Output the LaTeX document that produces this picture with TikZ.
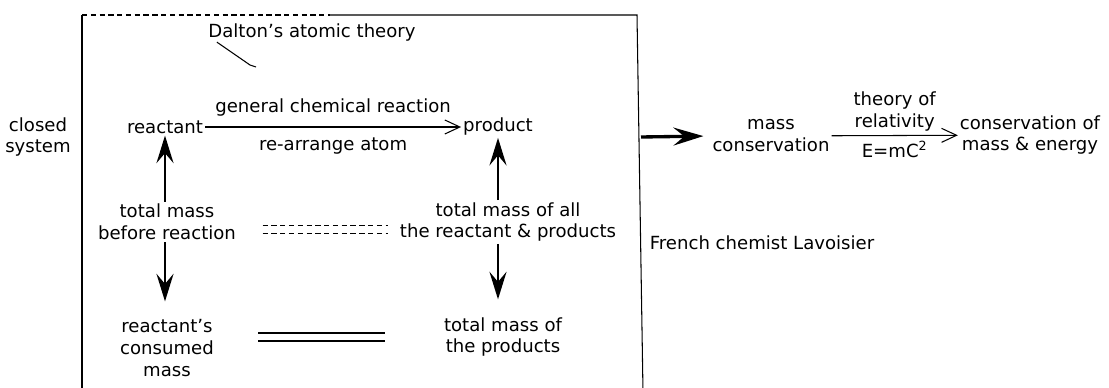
\documentclass[tikz,border=0pt]{standalone}
\usepackage{fontspec}
\setmainfont{DejaVu Sans}
\usetikzlibrary{arrows.meta, positioning}

\begin{document}
\begin{tikzpicture}[
    x=0.02cm, y=-0.02cm,
    term/.style={
        align=center, inner sep=1pt,
        font=\fontsize{10.3}{12.5}\selectfont
    },
    lbl/.style={font=\fontsize{10.3}{12.5}\selectfont, inner sep=1pt, align=center},
    heavy/.style={line width=1.7pt, -{Stealth[length=5.5mm, width=3.4mm, inset=2mm]}},
    light/.style={line width=0.6pt, -{Straight Barb[length=3mm, width=2.8mm]}},
    equal/.style={line width=0.6pt}
]
\useasboundingbox (0,0) rectangle (1109,388);

% closed system boundary
\draw[line width=0.6pt] (82,15) -- (82,392);
\draw[line width=0.6pt, densely dashed] (82,15) -- (330,15);
\draw[line width=0.6pt] (330,15) -- (637,15) -- (643,392);
\coordinate (edge) at (641,137);

\node[term] (closed)    at (38,137)   {closed\\system};
\node[term] (dalton)    at (312,33)   {Dalton's atomic theory};
\node[term] (reactant)  at (165,127)  {reactant};
\node[term] (product)   at (498,127)  {product};
\node[term] (before)    at (167,222)  {total mass\\before reaction};
\node[term] (all)       at (508,222)  {total mass of all\\the reactant \& products};
\node[term] (consumed)  at (167,348)  {reactant's\\consumed\\mass};
\node[term] (products)  at (503,337)  {total mass of\\the products};
\node[term] (lavoisier) at (762,243)  {French chemist Lavoisier};
\node[term] (masscons)  at (771,136)  {mass\\conservation};
\node[term] (energy)    at (1030,135) {conservation of\\mass \& energy};

% pointer under Dalton
\coordinate (dtip) at (250,65);
\draw[line width=0.6pt] ([xshift=6pt,yshift=1pt]dalton.south west) -- (dtip) -- ++(6,2);

\draw[light] (reactant) -- node[lbl, above=5pt]{general chemical reaction}
                           node[lbl, below=5pt]{re-arrange atom} (product);

\draw[heavy] (before.north -| reactant) -- (reactant.south);
\draw[heavy] (all.north -| product) -- (product.south);
\draw[heavy, shorten >=9pt] (before.south -| reactant) -- (consumed.north -| reactant);
\draw[heavy, shorten >=9pt] (all.south -| product) -- (products.north -| product);

% equalities
\draw[equal, densely dashed] ([xshift=14pt,yshift=-2pt]before.east) -- ++(125,0);
\draw[equal, densely dashed] ([xshift=14pt,yshift=-6.5pt]before.east) -- ++(125,0);
\draw[equal] (258,333) -- (385,333);
\draw[equal] (258,341) -- (385,341);

\draw[line width=1.9pt, shorten >=4pt, -{Stealth[length=6mm, width=3.6mm, inset=2.2mm]}] (edge) -- (masscons.west);
\draw[light] (masscons) -- node[lbl, above=1pt]{theory of\\relativity}
                           node[lbl, below=2pt]{E=mC\textsuperscript{2}} (energy);

\end{tikzpicture}
\end{document}
